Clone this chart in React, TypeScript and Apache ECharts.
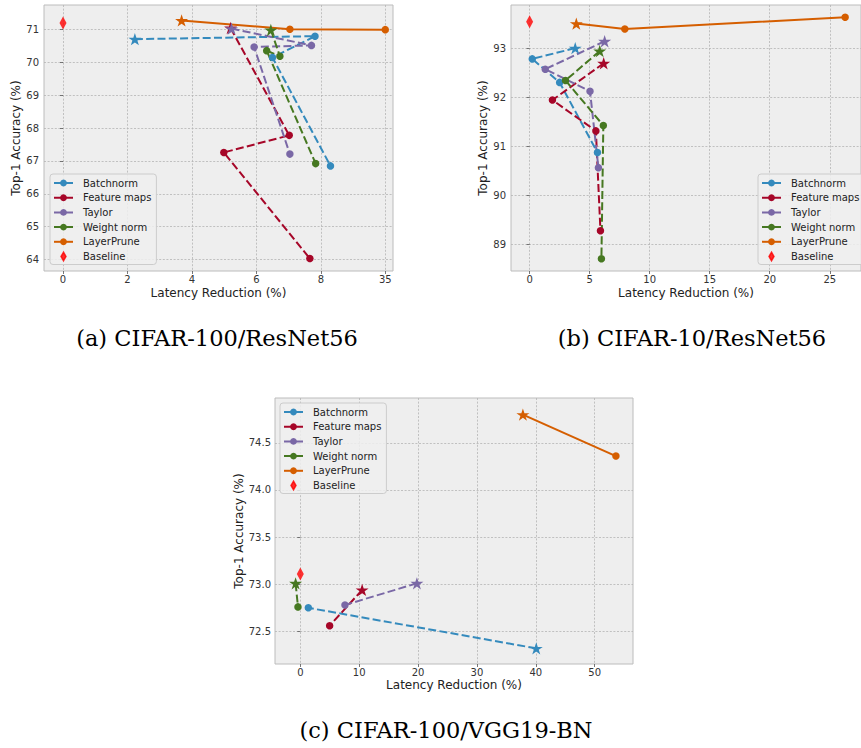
import React, { useEffect, useRef } from 'react';
import * as echarts from 'echarts';

// ---------- data ----------
const methods = ['Batchnorm', 'Feature maps', 'Taylor', 'Weight norm', 'LayerPrune'];
const methodColors = ['#348ABD', '#A60628', '#7A68A6', '#467821', '#D55E00'];
const baselineName = 'Baseline';
const baselineColor = '#FF0000';
const captions = ['(a) CIFAR-100/ResNet56', '(b) CIFAR-10/ResNet56', '(c) CIFAR-100/VGG19-BN'];
const xName = 'Latency Reduction (%)';
const yName = 'Top-1 Accuracy (%)';

// (a) CIFAR-100/ResNet56  -- x is the position on the axis; slot 10 is the tick labelled "35"
const aBatchnorm = [[2.23, 70.71], [7.82, 70.8], [6.5, 70.15], [8.3, 66.85]];
const aFeatureMaps = [[5.2, 71.05], [7.02, 67.78], [4.99, 67.26], [7.66, 64.03]];
const aTaylor = [[5.23, 71.03], [7.71, 70.52], [5.93, 70.47], [7.04, 67.21]];
const aWeightNorm = [[6.45, 70.99], [6.73, 70.19], [6.32, 70.36], [7.84, 66.92]];
const aLayerPrune = [[3.68, 71.28], [7.04, 71.01], [10, 71.0]];
const aBaseline = [[0, 71.2]];
const aXTicks = [0, 2, 4, 6, 8, 10];
const aXTickLabels = ['0', '2', '4', '6', '8', '35'];
const aYTicks = [64, 65, 66, 67, 68, 69, 70, 71];

// (b) CIFAR-10/ResNet56
const bBatchnorm = [[3.8, 93.0], [0.22, 92.78], [2.5, 92.3], [5.65, 90.87]];
const bFeatureMaps = [[6.17, 92.69], [1.9, 91.94], [5.52, 91.31], [5.9, 89.27]];
const bTaylor = [[6.25, 93.14], [1.3, 92.57], [5.03, 92.12], [5.73, 90.56]];
const bWeightNorm = [[5.84, 92.94], [2.99, 92.34], [6.14, 91.42], [5.98, 88.7]];
const bLayerPrune = [[3.89, 93.5], [7.93, 93.39], [26.28, 93.63]];
const bBaseline = [[0, 93.54]];
const bXTicks = [0, 5, 10, 15, 20, 25];
const bYTicks = [89, 90, 91, 92, 93];

// (c) CIFAR-100/VGG19-BN
const cBatchnorm = [[40.07, 72.32], [1.36, 72.75]];
const cFeatureMaps = [[10.5, 72.94], [4.98, 72.56]];
const cTaylor = [[19.8, 73.01], [7.58, 72.78]];
const cWeightNorm = [[-0.8, 73.01], [-0.4, 72.76]];
const cLayerPrune = [[37.8, 74.8], [53.6, 74.36]];
const cBaseline = [[0, 73.11]];
const cXTicks = [0, 10, 20, 30, 40, 50];
const cYTicks = [72.5, 73.0, 73.5, 74.0, 74.5];

// ---------- styling ----------
const FONT = 'DejaVu Sans';
const STAR =
  'path://M0,-1L0.2245,-0.309L0.951,-0.309L0.363,0.118L0.588,0.809L0,0.382L-0.588,0.809L-0.363,0.118L-0.951,-0.309L-0.2245,-0.309Z';
const DIAMOND = 'path://M0,-6L3.5,0L0,6L-3.5,0Z';

const panels = [
  {
    series: [aBatchnorm, aFeatureMaps, aTaylor, aWeightNorm, aLayerPrune],
    baseline: aBaseline,
    grid: { left: 44, top: 5, width: 349, height: 266 },
    x: { min: -0.59, max: 10.24, ticks: aXTicks, fmt: (v: number) => aXTickLabels[aXTicks.indexOf(v)] ?? '', nameGap: 16 },
    y: { min: 63.65, max: 71.75, ticks: aYTicks, fmt: (v: number) => String(v), nameGap: 19, margin: 5 },
    legend: { left: 50, top: 174 },
    caption: { x: 217, y: 338 },
  },
  {
    series: [bBatchnorm, bFeatureMaps, bTaylor, bWeightNorm, bLayerPrune],
    baseline: bBaseline,
    grid: { left: 511, top: 5, width: 358, height: 266 },
    x: { min: -1.55, max: 27.6, ticks: bXTicks, fmt: (v: number) => String(v), nameGap: 16 },
    y: { min: 88.45, max: 93.88, ticks: bYTicks, fmt: (v: number) => String(v), nameGap: 20, margin: 5 },
    legend: { left: 758, top: 174 },
    caption: { x: 692, y: 338 },
  },
  {
    series: [cBatchnorm, cFeatureMaps, cTaylor, cWeightNorm, cLayerPrune],
    baseline: cBaseline,
    grid: { left: 275, top: 398, width: 358, height: 266 },
    x: { min: -4.3, max: 56.5, ticks: cXTicks, fmt: (v: number) => String(v), nameGap: 15 },
    y: { min: 72.154, max: 74.976, ticks: cYTicks, fmt: (v: number) => v.toFixed(1), nameGap: 29, margin: 4 },
    legend: { left: 280, top: 403 },
    caption: { x: 446, y: 730 },
  },
];

function buildOption() {
  const grid: any[] = [];
  const xAxis: any[] = [];
  const yAxis: any[] = [];
  const series: any[] = [];
  const legend: any[] = [];
  const graphic: any[] = [];

  const splitLine = { show: true, lineStyle: { color: '#b4b4b4', width: 0.8, type: [2, 1.6] } };
  const tick = (vals: number[]) => ({
    show: true,
    length: 3,
    lineStyle: { color: '#555', width: 0.8 },
    customValues: vals,
  });

  panels.forEach((p, gi) => {
    grid.push({
      ...p.grid,
      show: true,
      backgroundColor: '#eeeeee',
      borderColor: '#bcbcbc',
      borderWidth: 1,
      containLabel: false,
    });
    xAxis.push({
      type: 'value',
      gridIndex: gi,
      min: p.x.min,
      max: p.x.max,
      axisLine: { show: false },
      axisTick: tick(p.x.ticks),
      axisLabel: {
        customValues: p.x.ticks,
        formatter: p.x.fmt,
        margin: 3,
        fontSize: 10,
        color: '#333',
        fontFamily: FONT,
      },
      splitLine,
      name: xName,
      nameLocation: 'middle',
      nameGap: p.x.nameGap,
      nameTextStyle: { fontSize: 12, color: '#222', fontFamily: FONT },
    });
    yAxis.push({
      type: 'value',
      gridIndex: gi,
      min: p.y.min,
      max: p.y.max,
      axisLine: { show: false },
      axisTick: tick(p.y.ticks),
      axisLabel: {
        customValues: p.y.ticks,
        formatter: p.y.fmt,
        margin: p.y.margin,
        fontSize: 10,
        color: '#333',
        fontFamily: FONT,
      },
      splitLine,
      name: yName,
      nameLocation: 'middle',
      nameGap: p.y.nameGap,
      nameTextStyle: { fontSize: 12, color: '#222', fontFamily: FONT },
    });

    p.series.forEach((data, mi) => {
      const color = methodColors[mi];
      const solid = mi === 4;
      series.push({
        type: 'line',
        name: methods[mi],
        xAxisIndex: gi,
        yAxisIndex: gi,
        data: data.map((pt, i) =>
          i === 0 ? { value: pt, symbol: STAR, symbolSize: 13 } : { value: pt }
        ),
        symbol: 'circle',
        symbolSize: 7.5,
        symbolKeepAspect: true,
        showAllSymbol: true,
        lineStyle: { color, width: 2, type: solid ? 'solid' : [8, 3.3] },
        itemStyle: { color },
        emphasis: { disabled: true },
        silent: true,
      });
    });
    series.push({
      type: 'scatter',
      name: baselineName,
      xAxisIndex: gi,
      yAxisIndex: gi,
      data: p.baseline,
      symbol: 'diamond',
      symbolSize: [7, 13],
      itemStyle: { color: baselineColor },
      emphasis: { disabled: true },
      silent: true,
    });

    legend.push({
      orient: 'vertical',
      left: p.legend.left,
      top: p.legend.top,
      data: [
        ...methods,
        { name: baselineName, icon: DIAMOND, itemStyle: { color: baselineColor, borderColor: baselineColor, borderWidth: 1.5 } },
      ],
      itemWidth: 19,
      itemHeight: 8.5,
      itemGap: 4.7,
      padding: [4, 5, 3, 3],
      backgroundColor: 'rgba(238,238,238,0.85)',
      borderColor: '#cccccc',
      borderWidth: 1,
      borderRadius: 3,
      selectedMode: false,
      textStyle: { fontSize: 10, color: '#222', fontFamily: FONT, padding: [0, 0, 0, 5] },
    });

    graphic.push({
      type: 'text',
      x: p.caption.x,
      y: p.caption.y,
      style: {
        text: captions[gi],
        fontSize: 22.5,
        fontFamily: 'DejaVu Serif',
        fill: '#000',
        align: 'center',
        verticalAlign: 'middle',
      },
    });
  });

  return { animation: false, backgroundColor: '#ffffff', grid, xAxis, yAxis, series, legend, graphic };
}

export default function App() {
  const ref = useRef<HTMLDivElement>(null);
  useEffect(() => {
    if (!ref.current) return;
    const chart = echarts.init(ref.current, undefined, { renderer: 'svg' });
    chart.setOption(buildOption() as any);
    return () => chart.dispose();
  }, []);
  return (
    <div
      ref={ref}
      style={{ position: 'fixed', left: 0, top: 0, width: 861, height: 748, background: '#fff' }}
    />
  );
}
